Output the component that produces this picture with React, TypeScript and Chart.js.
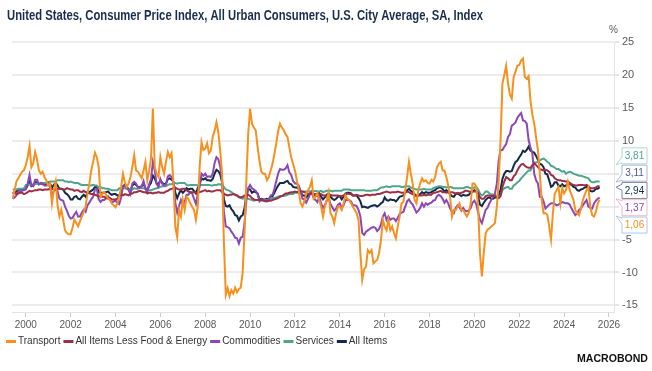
import React, { useEffect, useRef } from "react";
import { Chart, registerables } from "chart.js";

Chart.register(...registerables);

const TITLE = "United States, Consumer Price Index, All Urban Consumers, U.S. City Average, SA, Index";
const START = 1999 + 5 / 12; // June 1999, monthly observations
const X_MIN = 1999.385;
const X_MAX = 2026.224;
const yearTicks = [2000, 2002, 2004, 2006, 2008, 2010, 2012, 2014, 2016, 2018, 2020, 2022, 2024, 2026];
const yTicks = [25, 20, 15, 10, 5, 0, -5, -10, -15];

const seriesLabels = ["Transport", "All Items Less Food & Energy", "Commodities", "Services", "All Items"];
const seriesColors = ["#f7901e", "#9b3046", "#8b47b5", "#4fa68c", "#13294b"];
const calloutText = ["#f7901e", "#4d5aa6", "#8b47b5", "#4fa68c", "#13294b"];
const calloutBorder = ["#a9c8e8", "#aab6dc", "#f0b8c4", "#a8dccd", "#7d8aa3"];

// Transport, y/y %
const transport = [
  1.2, 2.5, 3.8, 4.3, 4.8, 5.3, 5.5,
  6.3, 7.5, 9.2, 6.0, 6.6, 8.3, 7.2, 5.5, 5.0, 5.3, 4.5, 4.0,
  3.2, 3.5, 0.5, 2.5, 3.8, 0.2, -1.5, -0.5, -2.0, -3.6, -4.0, -4.2,
  -4.2, -3.2, -2.0, -2.5, -3.0, -2.2, -1.5, -0.8, 0.0, 2.0, 3.5, 5.5,
  6.8, 8.2, 7.5, 6.0, 1.5, 2.0, 2.2, 1.8, 1.2, 1.0, 0.5, 0.2,
  -0.1, 0.5, 1.5, 3.0, 5.0, 3.7, 3.0, 3.5, 4.5, 6.0, 7.8, 5.5,
  5.3, 4.8, 4.3, 5.5, 6.8, 4.0, 5.5, 7.3, 14.9, 6.0, 5.0, 4.5,
  7.5, 6.0, 5.0, 6.8, 8.3, 7.5, 8.1, 3.5, -3.1, -4.6, -0.5, -1.5,
  1.0, -0.5, 1.5, 1.2, 0.5, 0.0, -0.5, -2.0, 0.0, 6.0, 9.8, 8.6,
  8.8, 9.6, 8.1, 8.5, 10.6, 11.5, 12.8, 11.3, 8.5, 5.0, -5.5, -13.4,
  -12.4, -13.6, -12.7, -13.2, -12.3, -13.0, -12.5, -12.3, -10.1, -4.1, 4.0, 11.1,
  14.9, 12.6, 12.0, 11.6, 9.1, 7.0, 5.3, 5.0, 5.0, 4.0, 4.5, 5.5,
  6.5, 8.0, 9.6, 11.5, 12.6, 12.0, 11.6, 11.0, 10.6, 9.0, 7.5, 6.5,
  5.5, 4.0, 2.5, 0.5, 0.0, 0.8, 2.0, 2.5, 3.0, 4.0, 1.2, 1.5,
  2.0, 1.0, 0.0, -1.5, 0.0, 1.0, 2.2, -1.0, -1.5, -2.5, -1.0, 0.0,
  0.0, -0.5, 0.5, 1.7, 1.2, 1.0, 0.5, 0.0, -0.5, -1.0, -2.0, -7.1,
  -11.1, -9.5, -9.1, -6.6, -7.0, -6.6, -8.6, -8.3, -8.1, -7.1, -5.1, -2.0,
  -3.0, -3.6, -2.0, -3.6, -3.0, -4.0, -4.8, -3.0, -1.5, 0.5, 0.7, 2.5,
  4.5, 6.8, 5.0, 3.5, 1.0, 0.5, 2.5, 3.5, 4.3, 3.8, 4.0, 3.6,
  3.5, 4.1, 3.8, 4.5, 6.0, 6.5, 6.8, 5.5, 5.5, 4.5, 3.2, 1.5,
  -1.5, -0.5, -0.5, 0.0, 0.5, -0.5, -0.5, -1.0, -1.5, -1.0, 0.5, 3.5,
  3.5, 3.0, 0.0, -7.1, -10.6, -7.1, -4.1, -3.5, -3.3, -3.0, -2.8, -2.5,
  0.0, 4.0, 10.1, 18.7, 20.0, 21.4, 18.7, 17.0, 16.4, 19.7, 20.5, 21.4,
  21.5, 22.2, 22.5, 19.7, 19.4, 19.8, 16.1, 14.0, 12.6, 10.5, 8.6, 5.0,
  1.0, -1.0, -1.0, -1.2, -3.0, -5.0, -1.0, 2.0, 2.5, 3.0, 0.5, 2.8,
  2.0, 2.5, 3.8, 2.5, 1.8, 1.0, -0.5, -1.0, -1.3, -0.3, 1.0, 1.8,
  2.5, 3.0, 0.0, -1.3, -1.5, -0.8, 0.5, 1.06,
];

// All Items Less Food & Energy, y/y %
const core = [
  2.1, 2.1, 1.9, 2.0, 2.1, 2.1, 1.9,
  2.0, 2.2, 2.4, 2.3, 2.4, 2.5, 2.5, 2.6, 2.6, 2.5, 2.6, 2.6,
  2.6, 2.7, 2.7, 2.6, 2.5, 2.7, 2.7, 2.7, 2.6, 2.6, 2.8, 2.7,
  2.6, 2.6, 2.4, 2.5, 2.5, 2.3, 2.2, 2.4, 2.2, 2.2, 2.0, 1.9,
  1.9, 1.8, 1.7, 1.5, 1.6, 1.5, 1.5, 1.3, 1.2, 1.3, 1.1, 1.1,
  1.1, 1.2, 1.6, 1.8, 1.7, 1.9, 1.8, 1.7, 2.0, 2.0, 2.2, 2.2,
  2.3, 2.4, 2.3, 2.2, 2.2, 2.0, 2.1, 2.1, 2.0, 2.1, 2.1, 2.2,
  2.1, 2.1, 2.1, 2.3, 2.4, 2.6, 2.7, 2.8, 2.9, 2.7, 2.6, 2.6,
  2.7, 2.7, 2.5, 2.3, 2.2, 2.2, 2.2, 2.1, 2.1, 2.2, 2.3, 2.4,
  2.5, 2.3, 2.4, 2.3, 2.3, 2.4, 2.5, 2.5, 2.5, 2.2, 2.0, 1.8,
  1.7, 1.8, 1.8, 1.9, 1.8, 1.7, 1.5, 1.4, 1.5, 1.7, 1.7, 1.8,
  1.6, 1.3, 1.1, 1.0, 1.0, 1.0, 1.0, 1.0, 0.9, 0.8, 0.9, 0.9,
  1.0, 1.1, 1.2, 1.3, 1.5, 1.6, 1.8, 2.0, 2.0, 2.1, 2.2, 2.2,
  2.3, 2.2, 2.3, 2.3, 2.3, 2.2, 2.1, 1.9, 2.0, 2.0, 1.9, 1.9,
  1.9, 2.0, 1.9, 1.7, 1.7, 1.6, 1.7, 1.8, 1.7, 1.7, 1.7, 1.7,
  1.6, 1.6, 1.7, 1.8, 2.0, 1.9, 1.9, 1.7, 1.7, 1.8, 1.7, 1.6,
  1.6, 1.7, 1.8, 1.8, 1.7, 1.8, 1.8, 1.8, 1.9, 1.9, 2.0, 2.1,
  2.2, 2.3, 2.2, 2.1, 2.2, 2.2, 2.2, 2.3, 2.2, 2.1, 2.1, 2.2,
  2.3, 2.2, 2.0, 1.9, 1.7, 1.7, 1.7, 1.7, 1.7, 1.8, 1.7, 1.8,
  1.8, 1.8, 2.1, 2.1, 2.2, 2.3, 2.4, 2.2, 2.2, 2.1, 2.2, 2.2,
  2.2, 2.1, 2.0, 2.1, 2.0, 2.1, 2.2, 2.4, 2.4, 2.3, 2.3, 2.3,
  2.3, 2.4, 2.1, 1.4, 1.2, 1.2, 1.6, 1.7, 1.7, 1.6, 1.6, 1.6,
  1.4, 1.3, 1.6, 3.0, 3.8, 4.5, 4.3, 4.0, 4.0, 4.6, 4.9, 5.5,
  6.0, 6.4, 6.5, 6.2, 6.0, 5.9, 5.9, 6.3, 6.6, 6.3, 6.0, 5.7,
  5.6, 5.5, 5.6, 5.5, 5.3, 4.8, 4.7, 4.3, 4.1, 4.0, 4.0, 3.9,
  3.9, 3.8, 3.8, 3.6, 3.4, 3.3, 3.2, 3.2, 3.3, 3.3, 3.3, 3.2,
  3.3, 3.1, 2.8, 2.8, 2.8, 2.9, 3.1, 3.11,
];

// Commodities, y/y %
const commodities = [
  1.2, 1.4, 1.7, 2.3, 2.3, 2.4, 2.5,
  2.6, 3.5, 4.8, 3.2, 3.1, 4.1, 4.1, 3.4, 3.6, 3.5, 3.2, 3.2,
  3.6, 3.0, 1.7, 2.4, 3.2, 2.3, 1.2, 1.0, 0.9, 0.0, -0.6, -1.4,
  -1.8, -1.7, -1.2, -0.8, -1.5, -1.5, -0.9, -0.5, -0.8, 0.2, 0.6, 1.1,
  1.5, 2.6, 2.7, 1.1, 0.7, 1.0, 1.0, 1.3, 1.6, 1.1, 0.6, 0.8,
  0.9, 0.6, 0.4, 1.4, 3.0, 3.2, 2.8, 2.5, 1.9, 3.5, 3.8, 3.5,
  2.9, 2.8, 3.1, 3.9, 2.7, 2.2, 3.4, 4.2, 6.8, 5.5, 3.4, 3.0,
  4.2, 3.5, 3.2, 3.4, 4.6, 4.8, 4.5, 3.6, 0.6, -0.9, 0.1, 1.0,
  0.3, 0.7, 1.8, 1.8, 2.2, 2.0, 1.2, 0.4, 1.9, 3.0, 5.0, 4.7,
  5.0, 4.5, 4.6, 4.5, 5.0, 6.6, 7.5, 7.2, 6.1, 4.1, -0.8, -3.0,
  -3.1, -3.3, -3.8, -4.2, -4.7, -4.8, -5.6, -4.7, -4.6, -2.6, 0.9, 2.8,
  3.3, 2.8, 2.6, 2.4, 1.9, 0.8, 1.1, 0.9, 0.8, 1.0, 1.1, 1.7,
  1.8, 2.7, 3.9, 5.0, 5.7, 5.6, 5.6, 5.8, 6.3, 5.2, 4.8, 3.9,
  3.5, 3.5, 3.2, 2.4, 1.2, 1.1, 0.6, 1.2, 1.8, 2.2, 1.3, 1.0,
  0.7, 1.5, 0.5, -0.2, 0.2, 0.9, 1.4, 0.4, -0.1, -0.6, -0.3, 0.3,
  0.5, -0.2, 0.2, 1.0, 1.0, 1.0, 0.8, 0.2, 0.2, 0.1, -0.5, -1.5,
  -4.0, -4.3, -3.8, -3.6, -3.4, -3.2, -3.1, -3.2, -3.7, -3.4, -2.7, -1.5,
  -1.0, -2.0, -1.5, -2.0, -1.8, -1.8, -2.2, -1.7, -1.1, -0.9, -0.8, 0.0,
  0.8, 1.1, 0.6, 0.3, -0.3, -0.9, -0.6, -0.2, 0.5, 0.0, 0.5, 0.3,
  0.5, 0.6, 0.9, 1.0, 1.6, 1.8, 1.6, 1.2, 0.6, 1.0, 0.5, -0.3,
  -0.7, -1.0, -0.2, 0.2, -0.1, -0.6, -0.2, -0.6, -0.7, -0.6, -0.2, 0.6,
  0.9, 0.4, -0.9, -2.0, -2.5, -1.5, -0.5, -0.2, 0.5, 1.0, 1.5, 2.0,
  3.5, 7.0, 8.6, 8.6, 9.1, 9.5, 10.6, 11.0, 12.3, 12.5, 12.8, 13.5,
  13.9, 14.2, 13.1, 13.0, 12.6, 10.1, 9.0, 8.1, 5.0, 4.0, 3.5, 1.5,
  1.5, 0.8, -0.3, 0.0, 0.3, 0.5, 0.5, 0.4, 0.2, 0.3, 0.5, 0.7,
  0.6, 0.5, 0.5, 0.3, -0.3, -0.8, -1.3, -1.0, -0.5, -0.3, 0.2, 0.6,
  1.0, 0.0, -0.2, -0.3, 0.5, 0.9, 1.2, 1.37,
];

// Services, y/y %
const services = [
  2.6, 2.6, 2.6, 2.7, 2.7, 2.7, 2.7,
  3.3, 3.3, 3.4, 3.3, 3.4, 3.4, 3.5, 3.4, 3.5, 3.6, 3.6, 3.6,
  3.7, 3.8, 3.8, 3.8, 3.8, 4.0, 4.0, 4.0, 4.0, 3.8, 3.8, 3.7,
  3.8, 3.7, 3.6, 3.6, 3.6, 3.4, 3.3, 3.3, 3.3, 3.3, 3.2, 3.2,
  3.3, 3.2, 3.2, 2.9, 3.0, 2.8, 2.8, 2.7, 2.7, 2.6, 2.5, 2.5,
  2.5, 2.5, 2.8, 2.8, 2.8, 2.8, 2.7, 2.6, 2.7, 2.6, 2.8, 2.7,
  2.7, 2.9, 2.8, 2.8, 2.7, 2.5, 2.5, 2.5, 2.6, 2.7, 2.8, 2.9,
  3.0, 3.1, 3.1, 3.1, 3.3, 3.4, 3.4, 3.6, 3.6, 3.5, 3.6, 3.6,
  3.6, 3.6, 3.3, 3.2, 3.3, 3.3, 3.3, 3.3, 3.2, 3.3, 3.3, 3.3,
  3.3, 3.3, 3.3, 3.2, 3.2, 3.3, 3.3, 3.4, 3.4, 3.2, 3.0, 2.6,
  2.5, 2.4, 2.2, 2.0, 1.8, 1.7, 1.4, 1.3, 1.2, 1.3, 1.3, 1.2,
  1.1, 1.0, 0.9, 1.0, 1.0, 1.0, 0.9, 1.0, 1.0, 1.0, 1.1, 1.2,
  1.3, 1.3, 1.4, 1.5, 1.6, 1.6, 1.6, 1.7, 1.8, 1.9, 1.9, 1.9,
  2.1, 2.1, 2.1, 2.2, 2.3, 2.3, 2.3, 2.3, 2.3, 2.4, 2.3, 2.4,
  2.3, 2.3, 2.4, 2.2, 2.3, 2.4, 2.4, 2.4, 2.3, 2.4, 2.4, 2.4,
  2.4, 2.4, 2.6, 2.6, 2.6, 2.6, 2.5, 2.5, 2.5, 2.5, 2.5, 2.5,
  2.5, 2.5, 2.4, 2.4, 2.4, 2.4, 2.5, 2.5, 2.5, 2.7, 2.9, 2.9,
  3.0, 3.1, 3.0, 3.0, 3.1, 3.1, 3.1, 3.1, 3.1, 3.0, 3.0, 3.1,
  3.1, 3.1, 2.9, 2.8, 2.7, 2.6, 2.6, 2.6, 2.6, 2.7, 2.6, 2.6,
  2.6, 2.6, 2.8, 2.9, 3.0, 3.1, 3.1, 3.0, 3.0, 2.9, 3.0, 3.0,
  2.9, 2.8, 2.8, 2.8, 2.8, 2.8, 2.8, 2.9, 3.0, 2.9, 2.8, 2.8,
  2.9, 3.0, 2.6, 2.0, 1.7, 1.9, 2.3, 2.3, 2.0, 1.9, 1.8, 1.8,
  1.5, 1.3, 1.7, 2.5, 2.8, 2.9, 3.0, 2.7, 2.7, 3.2, 3.4, 3.7,
  3.9, 4.3, 4.6, 4.9, 5.2, 5.5, 5.5, 6.1, 6.7, 6.7, 6.8, 7.0,
  7.2, 7.3, 7.1, 6.8, 6.6, 6.2, 6.1, 5.9, 5.7, 5.7, 5.5, 5.3,
  5.4, 5.0, 5.2, 5.3, 5.2, 5.0, 4.9, 4.8, 4.7, 4.7, 4.6, 4.5,
  4.4, 4.3, 3.9, 3.7, 3.7, 3.8, 3.8, 3.81,
];

// All Items, y/y %
const allItems = [
  2.0, 2.1, 2.3, 2.6, 2.6, 2.6, 2.7,
  2.7, 3.2, 3.8, 3.1, 3.2, 3.7, 3.7, 3.4, 3.5, 3.4, 3.4, 3.4,
  3.7, 3.5, 2.9, 3.3, 3.6, 3.2, 2.7, 2.7, 2.6, 2.1, 1.9, 1.6,
  1.1, 1.1, 1.5, 1.6, 1.2, 1.1, 1.5, 1.8, 1.5, 2.0, 2.2, 2.4,
  2.6, 3.0, 3.0, 2.2, 2.1, 2.1, 2.1, 2.2, 2.3, 2.0, 1.8, 1.9,
  1.9, 1.7, 1.7, 2.3, 3.1, 3.3, 3.0, 2.7, 2.5, 3.2, 3.5, 3.3,
  3.0, 3.0, 3.1, 3.5, 2.8, 2.5, 3.2, 3.6, 4.7, 4.3, 3.5, 3.4,
  4.0, 3.6, 3.4, 3.5, 4.2, 4.3, 4.1, 3.8, 2.1, 1.3, 2.0, 2.5,
  2.1, 2.4, 2.8, 2.6, 2.7, 2.7, 2.4, 2.0, 2.8, 3.5, 4.3, 4.1,
  4.3, 4.0, 4.0, 3.9, 4.2, 5.0, 5.6, 5.4, 4.9, 3.7, 1.1, 0.1,
  0.0, 0.2, -0.4, -0.7, -1.3, -1.4, -2.1, -1.5, -1.3, -0.2, 1.8, 2.7,
  2.6, 2.1, 2.3, 2.2, 2.0, 1.1, 1.2, 1.1, 1.1, 1.2, 1.1, 1.5,
  1.6, 2.1, 2.7, 3.2, 3.6, 3.6, 3.6, 3.8, 3.9, 3.5, 3.4, 3.0,
  2.9, 2.9, 2.7, 2.3, 1.7, 1.7, 1.4, 1.7, 2.0, 2.2, 1.8, 1.7,
  1.6, 2.0, 1.5, 1.1, 1.4, 1.8, 2.0, 1.5, 1.2, 1.0, 1.2, 1.5,
  1.6, 1.1, 1.5, 2.0, 2.1, 2.1, 2.0, 1.7, 1.7, 1.7, 1.3, 0.8,
  -0.1, 0.0, -0.1, -0.2, 0.0, 0.1, 0.2, 0.2, 0.0, 0.2, 0.5, 0.7,
  1.4, 1.0, 0.9, 1.1, 1.0, 1.0, 0.8, 1.1, 1.5, 1.6, 1.7, 2.1,
  2.5, 2.7, 2.4, 2.2, 1.9, 1.6, 1.7, 1.9, 2.2, 2.0, 2.2, 2.1,
  2.1, 2.2, 2.4, 2.5, 2.8, 2.9, 2.9, 2.7, 2.3, 2.5, 2.2, 1.9,
  1.6, 1.5, 1.9, 2.0, 1.8, 1.6, 1.8, 1.7, 1.7, 1.8, 2.1, 2.3,
  2.5, 2.3, 1.5, 0.3, 0.1, 0.6, 1.0, 1.3, 1.4, 1.2, 1.2, 1.4,
  1.4, 1.7, 2.6, 4.2, 5.0, 5.4, 5.4, 5.3, 5.4, 6.2, 6.8, 7.0,
  7.5, 7.9, 8.5, 8.3, 8.6, 9.1, 8.5, 8.3, 8.2, 7.7, 7.1, 6.5,
  6.4, 6.0, 5.0, 4.9, 4.0, 3.0, 3.2, 3.7, 3.7, 3.2, 3.1, 3.4,
  3.1, 3.2, 3.5, 3.4, 3.3, 3.0, 2.9, 2.5, 2.4, 2.6, 2.7, 2.9,
  3.0, 2.8, 2.4, 2.3, 2.4, 2.7, 2.7, 2.94,
];

const seriesValues = [transport, core, commodities, services, allItems];

const toPoints = (arr: number[]) => arr.map((v, i) => ({ x: START + i / 12, y: v }));

const FONT = '"Liberation Sans", Arial, sans-serif';

const decorPlugin = {
  id: "decor",
  afterDraw(chart: any) {
    const ctx = chart.ctx as CanvasRenderingContext2D;
    const yScale = chart.scales.y;

    // Title
    ctx.save();
    ctx.font = `bold 14px ${FONT}`;
    const tw = ctx.measureText(TITLE).width;
    ctx.translate(7, 20);
    ctx.scale(476 / tw, 1);
    ctx.fillStyle = "#1b2d4f";
    ctx.textBaseline = "alphabetic";
    ctx.fillText(TITLE, 0, 0);
    ctx.restore();

    // % unit
    ctx.save();
    ctx.font = `10px ${FONT}`;
    ctx.fillStyle = "#595959";
    ctx.textAlign = "left";
    ctx.textBaseline = "middle";
    ctx.fillText("%", 609, 30);
    ctx.restore();

    // Legend
    ctx.save();
    ctx.font = `10px ${FONT}`;
    ctx.textBaseline = "middle";
    let lx = 6;
    const ly = 341.5;
    chart.data.datasets.forEach((ds: any) => {
      ctx.fillStyle = ds.borderColor;
      ctx.fillRect(lx, ly - 1.5, 10, 3);
      lx += 12;
      ctx.fillStyle = "#333333";
      ctx.fillText(ds.label, lx, ly);
      lx += ctx.measureText(ds.label).width + 3;
    });
    ctx.restore();

    // Last-value callouts
    const items = chart.data.datasets.map((ds: any, i: number) => {
      const v = ds.data[ds.data.length - 1].y;
      return { i, v, py: yScale.getPixelForValue(v) };
    });
    items.sort((a: any, b: any) => b.v - a.v);
    const spacing = 17.3;
    const mean = items.reduce((s: number, it: any) => s + it.py, 0) / items.length;
    const top0 = mean - (spacing * (items.length - 1)) / 2;
    ctx.save();
    ctx.font = `10px ${FONT}`;
    ctx.textAlign = "center";
    ctx.textBaseline = "middle";
    items.forEach((it: any, k: number) => {
      const cy = top0 + k * spacing;
      const bx = 622, bw = 25, bh = 16;
      const t = cy - bh / 2, b = cy + bh / 2;
      const tipY = Math.max(t - 1, Math.min(b + 1, it.py));
      const baseC = Math.max(t + 4, Math.min(b - 4, tipY));
      ctx.beginPath();
      ctx.moveTo(bx, t);
      ctx.lineTo(bx + bw, t);
      ctx.lineTo(bx + bw, b);
      ctx.lineTo(bx, b);
      ctx.lineTo(bx, baseC + 3);
      ctx.lineTo(616, tipY);
      ctx.lineTo(bx, baseC - 3);
      ctx.closePath();
      ctx.fillStyle = "#ffffff";
      ctx.fill();
      ctx.strokeStyle = calloutBorder[it.i];
      ctx.lineWidth = 1;
      ctx.stroke();
      ctx.fillStyle = calloutText[it.i];
      ctx.fillText(it.v.toFixed(2).replace(".", ","), bx + bw / 2, cy + 0.5);
    });
    ctx.restore();

    // Source logo
    ctx.save();
    ctx.font = `bold 10px ${FONT}`;
    const lw = ctx.measureText("MACROBOND").width;
    ctx.translate(577, 362);
    ctx.scale(71 / lw, 1);
    ctx.fillStyle = "#111111";
    ctx.fillText("MACROBOND", 0, 0);
    ctx.restore();
  },
};

export default function App() {
  const ref = useRef<HTMLCanvasElement | null>(null);

  useEffect(() => {
    if (!ref.current) return;
    const chart = new Chart(ref.current, {
      type: "line",
      data: {
        datasets: seriesLabels.map((label, i) => ({
          label,
          data: toPoints(seriesValues[i]),
          borderColor: seriesColors[i],
          backgroundColor: seriesColors[i],
          borderWidth: 2,
          pointRadius: 0,
          tension: 0,
        })),
      },
      options: {
        responsive: false,
        animation: false,
        parsing: false as any,
        layout: { padding: { left: 12, right: 0, top: 42, bottom: 39 } },
        plugins: { legend: { display: false }, tooltip: { enabled: false }, title: { display: false } },
        scales: {
          x: {
            type: "linear",
            min: X_MIN,
            max: X_MAX,
            afterBuildTicks: (s: any) => {
              s.ticks = yearTicks.map((v) => ({ value: v }));
            },
            afterFit: (s: any) => {
              s.height = 20;
            },
            ticks: {
              autoSkip: false,
              maxRotation: 0,
              padding: 2,
              color: "#595959",
              font: { size: 10, family: FONT },
              callback: (v: any) => String(v),
            },
            grid: { drawOnChartArea: false, drawTicks: true, tickLength: 5, color: "#cccccc" },
            border: { display: true, color: "#e3e3e3" },
          },
          y: {
            position: "right",
            min: -16,
            max: 25,
            afterBuildTicks: (s: any) => {
              s.ticks = yTicks.map((v) => ({ value: v }));
            },
            afterFit: (s: any) => {
              s.width = 38;
            },
            ticks: {
              padding: 3,
              color: "#595959",
              font: { size: 11, family: FONT },
              callback: (v: any) => String(v),
            },
            grid: { color: "#ececec", lineWidth: 2, drawTicks: true, tickLength: 5, tickColor: "#cccccc", tickWidth: 1 },
            border: { display: true, color: "#e3e3e3" },
          },
        },
      },
      plugins: [decorPlugin],
    });
    return () => chart.destroy();
  }, []);

  return (
    <div style={{ position: "fixed", left: 0, top: 0, width: 652, height: 371, background: "#ffffff" }}>
      <canvas ref={ref} width={652} height={371} style={{ display: "block", width: 652, height: 371 }} />
    </div>
  );
}
